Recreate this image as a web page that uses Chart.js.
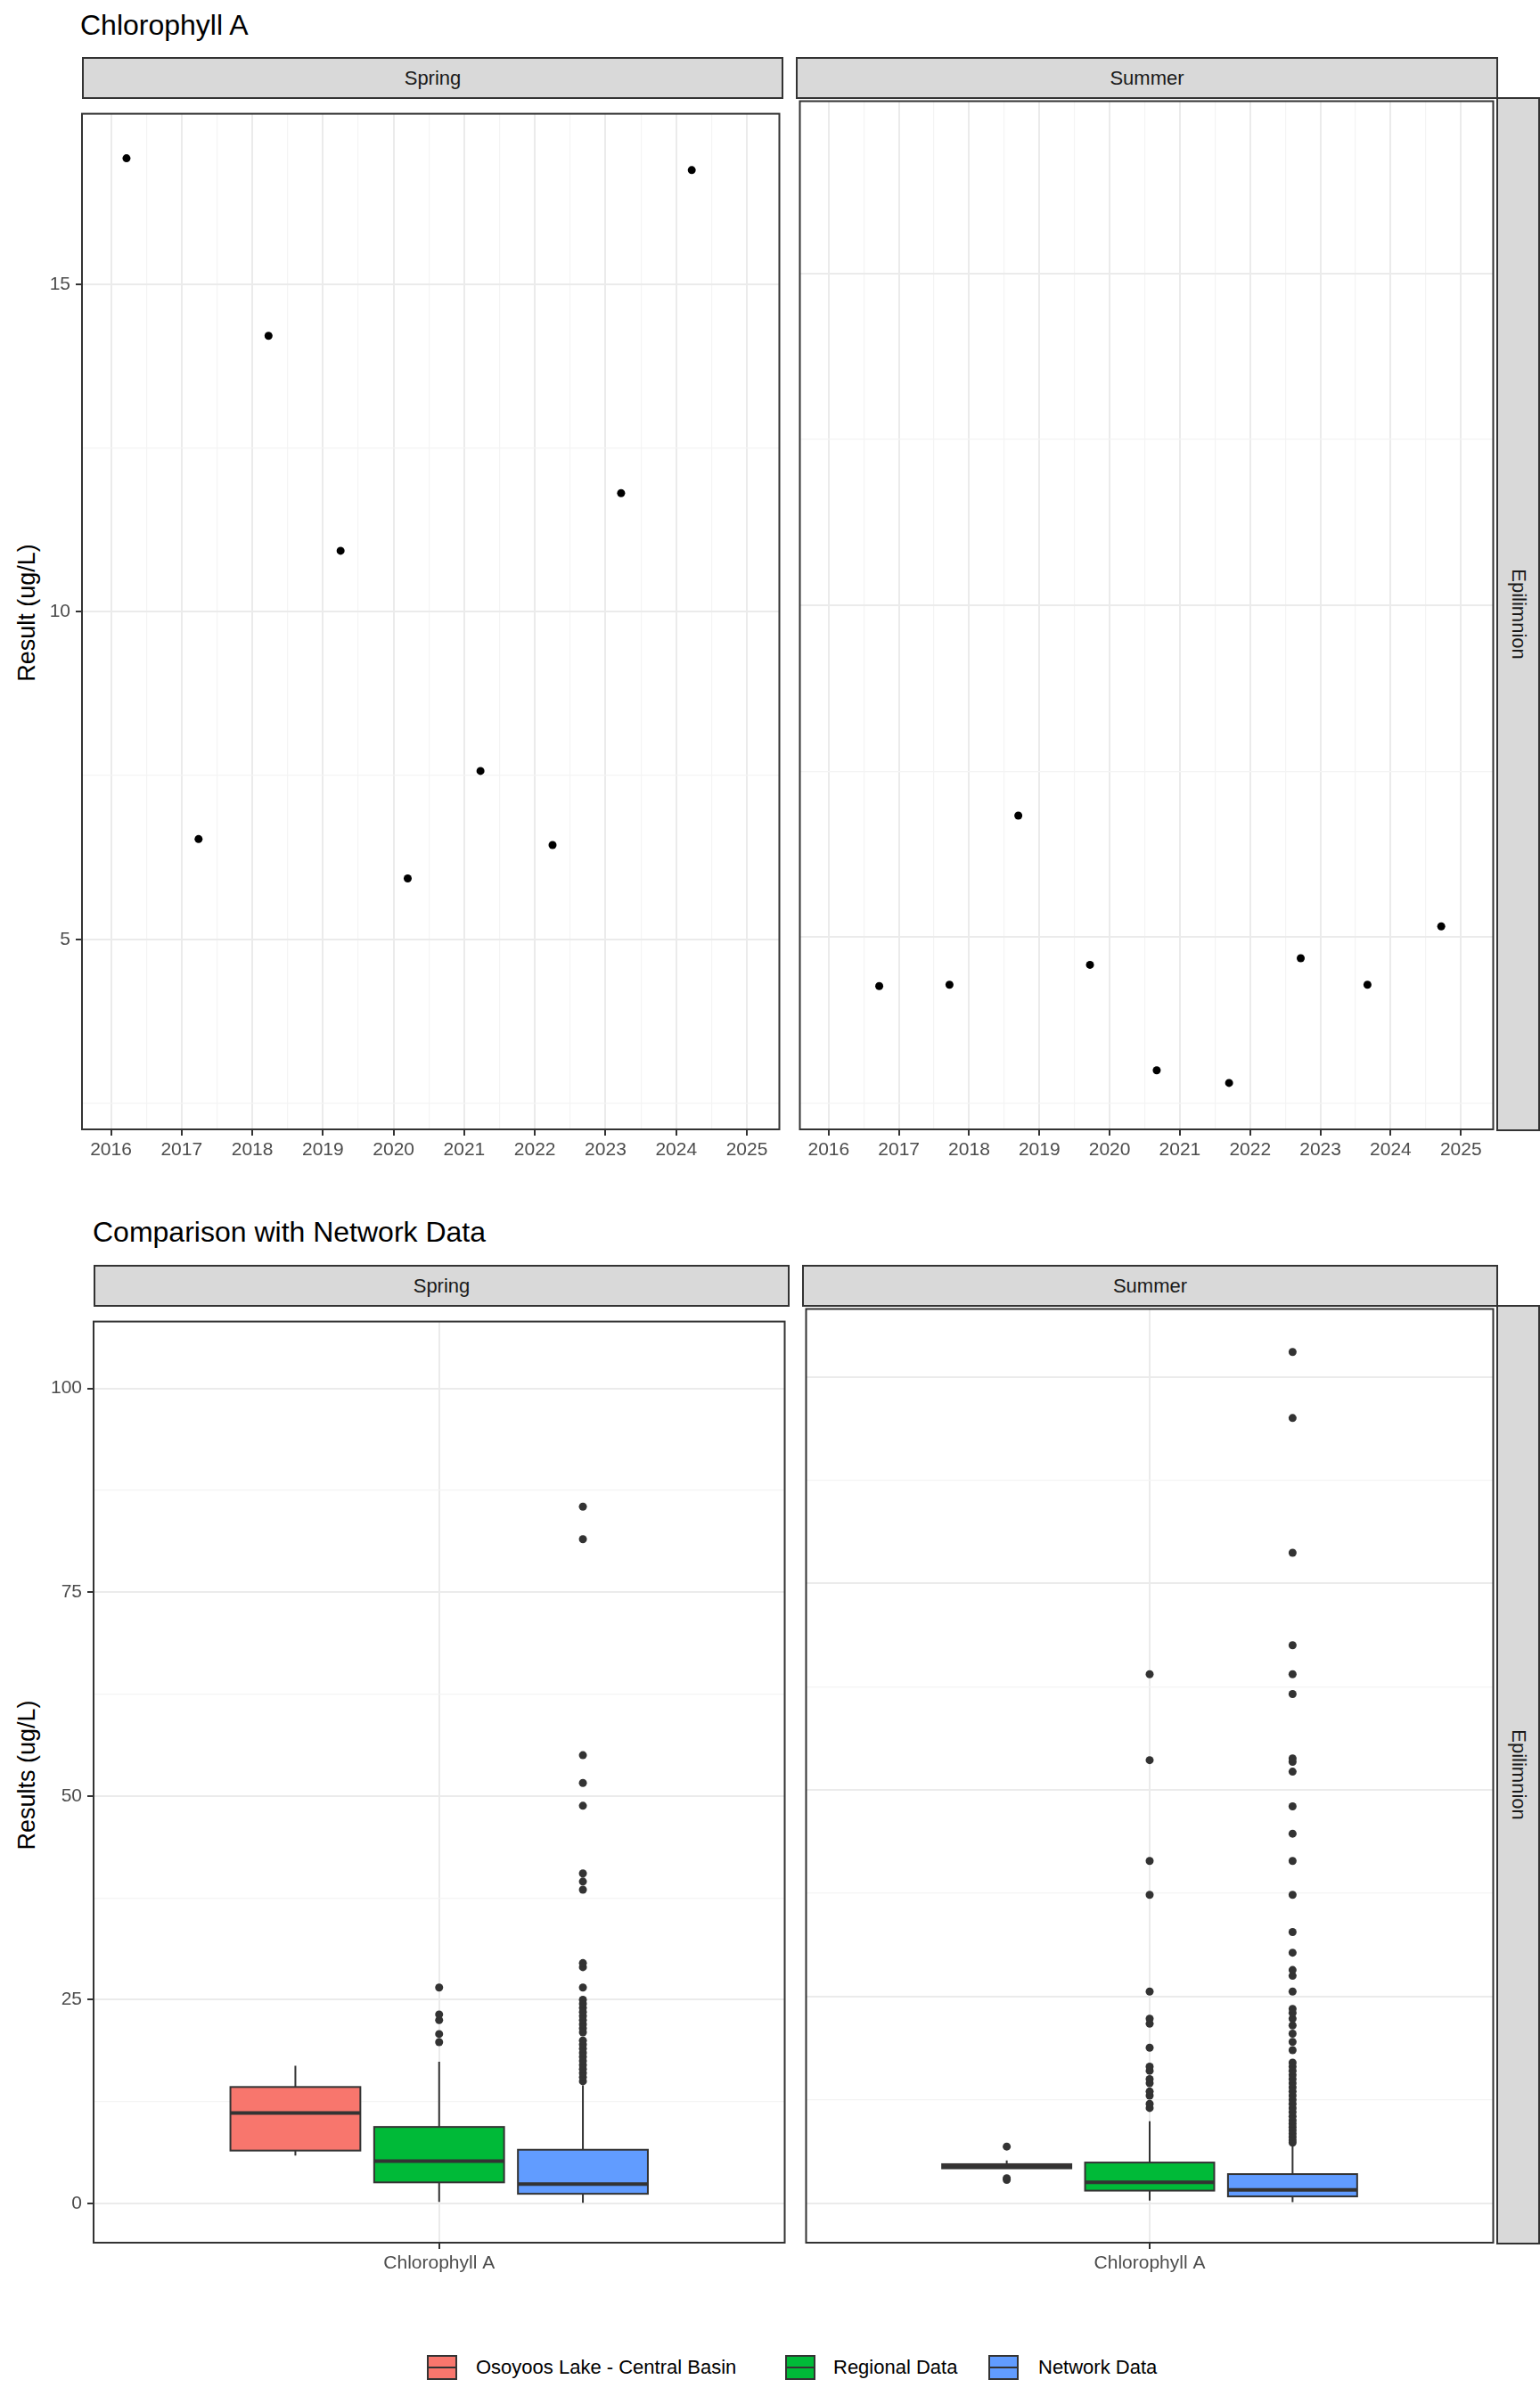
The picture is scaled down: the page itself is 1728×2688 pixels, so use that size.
<!DOCTYPE html>
<html><head><meta charset="utf-8">
<script src="https://cdn.jsdelivr.net/npm/chart.js@4/dist/chart.umd.min.js"></script>
<style>
body{margin:0;background:#fff;width:1728px;height:2688px;position:relative;font-family:"Liberation Sans",Arial,sans-serif;overflow:hidden}
.abs{position:absolute}
.strip{position:absolute;background:#d9d9d9;border:2px solid #333;box-sizing:border-box;display:flex;align-items:center;justify-content:center;font-size:22px;color:#1a1a1a}
.title{position:absolute;font-size:32px;color:#000}
.ytitle{position:absolute;font-size:27px;color:#000;transform:rotate(-90deg);transform-origin:center;white-space:nowrap}
.vtext{transform:rotate(90deg);white-space:nowrap}
.leg{position:absolute;font-size:22px;color:#000;top:2643px}
.key{position:absolute;width:34px;height:28px;top:2642px;border:2px solid #333;box-sizing:border-box}
.key:after{content:"";position:absolute;left:0;right:0;top:11px;height:2px;background:#333}
</style></head><body>
<div class="title" style="left:90px;top:10px">Chlorophyll A</div>
<div class="title" style="left:104px;top:1364px">Comparison with Network Data</div>
<div class="strip" style="left:92px;top:64px;width:787px;height:47px">Spring</div>
<div class="strip" style="left:893px;top:64px;width:788px;height:47px">Summer</div>
<div class="strip" style="left:1679px;top:109px;width:49px;height:1160px"><div class="vtext">Epilimnion</div></div>
<div class="strip" style="left:105px;top:1419px;width:781px;height:47px">Spring</div>
<div class="strip" style="left:900px;top:1419px;width:781px;height:47px">Summer</div>
<div class="strip" style="left:1679px;top:1464px;width:49px;height:1054px"><div class="vtext">Epilimnion</div></div>
<div class="ytitle" style="left:-60px;top:672px;width:180px;text-align:center">Result (ug/L)</div>
<div class="ytitle" style="left:-70px;top:1976px;width:200px;text-align:center">Results (ug/L)</div>
<div class="key" style="left:479px;background:#F8766D"></div><div class="leg" style="left:534px">Osoyoos Lake - Central Basin</div>
<div class="key" style="left:881px;background:#00BA38"></div><div class="leg" style="left:935px">Regional Data</div>
<div class="key" style="left:1109px;background:#619CFF"></div><div class="leg" style="left:1165px">Network Data</div>
<canvas id="c1" class="abs"></canvas><canvas id="c2" class="abs"></canvas>
<canvas id="c3" class="abs"></canvas><canvas id="c4" class="abs"></canvas>
<script>
// ---- data: top scatter ----
const springYears = [2016.22,2017.24,2018.23,2019.25,2020.20,2021.23,2022.25,2023.22,2024.22];
const springValues = [16.92,6.53,14.21,10.93,5.93,7.57,6.44,11.81,16.74];
const summerYears = [2016.72,2017.72,2018.70,2019.72,2020.67,2021.70,2022.72,2023.67,2024.72];
const summerValues = [4.26,4.28,6.83,4.58,2.99,2.80,4.68,4.28,5.16];
const yearTicks = [2016,2017,2018,2019,2020,2021,2022,2023,2024,2025];
const topYTicks = [5,10,15];
const bottomYTicks = [0,25,50,75,100];
// ---- data: boxplots (Osoyoos, Regional, Network) ----
const groups = ["Osoyoos Lake - Central Basin","Regional Data","Network Data"];
const groupColors = ["#F8766D","#00BA38","#619CFF"];
const springLower = [5.9,0.2,0.1];
const springQ1 = [6.5,2.6,1.2];
const springMedian = [11.1,5.2,2.4];
const springQ3 = [14.3,9.4,6.6];
const springUpper = [16.9,17.4,14.5];
const summerLower = [4.26,0.3,0.1];
const summerQ1 = [4.2,1.5,0.8];
const summerMedian = [4.4,2.5,1.6];
const summerQ3 = [4.7,4.9,3.5];
const summerUpper = [5.16,9.9,7.0];
const springOutOsoyoos = [];
const springOutRegional = [19.8,20.8,22.5,23.2,26.5];
const springOutNetwork = [15.0,15.5,16,16.5,17,17.5,18,18.5,19,19.5,20,21,21.5,22,22.5,23,23.5,24,24.5,25,26.5,29,29.5,38.5,39.5,40.5,48.8,51.6,55,81.5,85.5];
const summerOutOsoyoos = [6.83,2.99,2.80];
const summerOutRegional = [11.5,12,13,13.5,14.5,15,16,16.5,18.8,21.7,22.3,25.6,37.3,41.4,53.6,64];
const summerOutNetwork = [7.3,7.6,8,8.4,8.8,9.2,9.6,10,10.5,11,11.5,12,12.5,13,13.5,14,14.5,15,15.5,16,16.5,17,18.5,19.5,20.5,21.5,22.3,23,23.5,25.6,27.5,28.2,30.3,32.8,37.3,41.4,44.7,48,52.2,53.4,53.8,61.6,64,67.5,78.7,95,103];

const groupX = [0.292,0.5,0.708];
const halfW = 0.094;

function place(id, left, top, w, h){
  const c=document.getElementById(id);
  c.style.left=left+'px'; c.style.top=top+'px';
  c.style.width=w+'px'; c.style.height=h+'px';
  c.width=w; c.height=h; return c;
}
const borderPlugin={id:'border',afterDraw(ch){const a=ch.chartArea,g=ch.ctx;g.save();g.strokeStyle='#333';g.lineWidth=2;g.strokeRect(a.left,a.top,a.right-a.left,a.bottom-a.top);g.restore();}};
const boxPlugin={id:'boxes',beforeDatasetsDraw(ch){
  const s=ch.options.plugins.boxes; if(!s) return;
  const x=ch.scales.x,y=ch.scales.y,g=ch.ctx;g.save();
  for(let i=0;i<3;i++){
    const cx=x.getPixelForValue(groupX[i]),l=x.getPixelForValue(groupX[i]-halfW),r=x.getPixelForValue(groupX[i]+halfW);
    g.strokeStyle='#333';g.lineWidth=2;
    g.beginPath();g.moveTo(cx,y.getPixelForValue(s.lo[i]));g.lineTo(cx,y.getPixelForValue(s.q1[i]));
    g.moveTo(cx,y.getPixelForValue(s.q3[i]));g.lineTo(cx,y.getPixelForValue(s.hi[i]));g.stroke();
    const t=y.getPixelForValue(s.q3[i]),b=y.getPixelForValue(s.q1[i]);
    g.fillStyle=groupColors[i];g.fillRect(l,t,r-l,b-t);g.strokeRect(l,t,r-l,b-t);
    g.lineWidth=4;g.beginPath();const m=y.getPixelForValue(s.med[i]);g.moveTo(l,m);g.lineTo(r,m);g.stroke();
  }
  g.restore();}};

function yScale(min,max,all,majors,showLabels,axisW){
  return {type:'linear',min,max,
    afterBuildTicks:sc=>{sc.ticks=all.map(v=>({value:v}));},
    afterFit:sc=>{sc.width=axisW;},
    ticks:{display:showLabels,autoSkip:false,color:'#4d4d4d',font:{size:21,family:'Liberation Sans'},padding:6,
      callback:v=>majors.includes(v)?String(v):''},
    grid:{color:c=>majors.includes(c.tick.value)?'#ebebeb':'#f4f4f4',lineWidth:c=>majors.includes(c.tick.value)?2:1.2,
      tickLength:showLabels?7:0,tickColor:c=>majors.includes(c.tick.value)?'#333':'rgba(0,0,0,0)',drawTicks:showLabels},
    border:{display:false}};
}
function xYear(){
  const all=[];for(let v=2016;v<=2025;v+=0.5)all.push(v);
  return {type:'linear',min:2015.59,max:2025.46,
    afterBuildTicks:sc=>{sc.ticks=all.map(v=>({value:v}));},
    afterFit:sc=>{sc.height=45;},
    ticks:{autoSkip:false,maxRotation:0,color:'#4d4d4d',font:{size:21,family:'Liberation Sans'},padding:4,
      callback:v=>yearTicks.includes(v)?String(v):''},
    grid:{color:c=>yearTicks.includes(c.tick.value)?'#ebebeb':'#f4f4f4',lineWidth:c=>yearTicks.includes(c.tick.value)?2:1.2,
      tickLength:7,tickColor:c=>yearTicks.includes(c.tick.value)?'#333':'rgba(0,0,0,0)'},
    border:{display:false}};
}
function xCat(){
  return {type:'linear',min:0,max:1,
    afterBuildTicks:sc=>{sc.ticks=[{value:0.5}];},
    afterFit:sc=>{sc.height=45;},
    ticks:{color:'#4d4d4d',font:{size:21,family:'Liberation Sans'},padding:4,callback:()=> 'Chlorophyll A'},
    grid:{color:'#ebebeb',lineWidth:2,tickLength:7,tickColor:'#333'},border:{display:false}};
}
const base={responsive:false,animation:false,devicePixelRatio:1,layout:{padding:0},
  plugins:{legend:{display:false},tooltip:{enabled:false}}};
const topMaj=topYTicks, topAll=[2.5,5,7.5,10,12.5,15];
const botMaj=bottomYTicks, botAll=[0,12.5,25,37.5,50,62.5,75,87.5,100];

function scatterChart(id,left,top,w,h,axisW,xs,ys,labels){
  place(id,left,top,w,h);
  return new Chart(document.getElementById(id),{type:'scatter',
    data:{datasets:[{data:xs.map((x,i)=>({x,y:ys[i]})),pointRadius:4.5,backgroundColor:'#000',borderColor:'#000',borderWidth:0}]},
    options:Object.assign({},base,{scales:{x:xYear(),y:yScale(2.1,17.6,topAll,topMaj,labels,axisW)}}),
    plugins:[borderPlugin]});
}
function boxChart(id,left,top,w,h,axisW,stats,outs,labels){
  place(id,left,top,w,h);
  const ds=outs.map((o,i)=>({data:o.map(v=>({x:groupX[i],y:v})),pointRadius:4.5,backgroundColor:'#333',borderColor:'#333',borderWidth:0}));
  const opts=Object.assign({},base,{scales:{x:xCat(),y:yScale(-4.8,108.2,botAll,botMaj,labels,axisW)}});
  opts.plugins=Object.assign({},base.plugins,{boxes:stats});
  return new Chart(document.getElementById(id),{type:'scatter',data:{datasets:ds},options:opts,plugins:[borderPlugin,boxPlugin]});
}
scatterChart('c1',42,109,836+1,1158+45,50,springYears,springValues,true);
scatterChart('c2',893,109,787,1158+45,0,summerYears,summerValues,false);
boxChart('c3',35,1464,850,1052+45,70,{lo:springLower,q1:springQ1,med:springMedian,q3:springQ3,hi:springUpper},
  [springOutOsoyoos,springOutRegional,springOutNetwork],true);
boxChart('c4',900,1464,780,1052+45,0,{lo:summerLower,q1:summerQ1,med:summerMedian,q3:summerQ3,hi:summerUpper},
  [summerOutOsoyoos,summerOutRegional,summerOutNetwork],false);
</script></body></html>
